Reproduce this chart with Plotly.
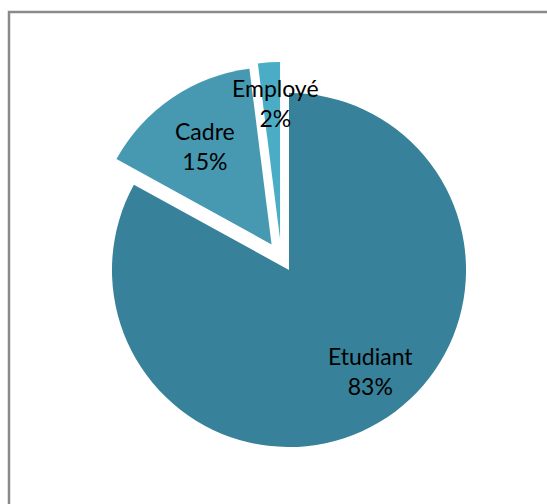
import math
import plotly.graph_objects as go

# Share of respondents by status
labels = ["Etudiant", "Cadre", "Employé"]
values = [83, 15, 2]
pulls = [0, 0.175, 0.175]
colors = ["#37819A", "#4699B1", "#4BACC6"]
# radial position of each label inside its slice (fraction of radius)
label_r = [0.74, 0.67, 0.77]
# fine pixel nudges of the labels (x, y)
label_shift = [(15, 12), (0, 0), (-3, 0)]
# extra sideways offset (px) of the small exploded slice
small_slice_dx = -7

W, H = 547, 504
ML, MR, MT, MB = 60, 40, 62, 26
plot_w = W - ML - MR
plot_h = H - MT - MB
pie_left, pie_size = 81, 416  # square box holding the pie (px)


def dom_x(left):
    return [(left - ML) / plot_w, (left + pie_size - ML) / plot_w]


transparent = "rgba(0,0,0,0)"
main_colors = colors[:2] + [transparent]
small_colors = [transparent, transparent, colors[2]]

fig = go.Figure()
fig.add_trace(go.Pie(
    labels=labels, values=values, pull=pulls,
    sort=False, direction="clockwise", rotation=0,
    marker=dict(colors=main_colors, line=dict(width=0)),
    textinfo="none", hoverinfo="skip", showlegend=False,
    domain=dict(x=dom_x(pie_left), y=[0, 1]),
))
fig.add_trace(go.Pie(
    labels=labels, values=values, pull=pulls,
    sort=False, direction="clockwise", rotation=0,
    marker=dict(colors=small_colors, line=dict(width=0)),
    textinfo="none", hoverinfo="skip", showlegend=False,
    domain=dict(x=dom_x(pie_left + small_slice_dx), y=[0, 1]),
))

# label placement derived from slice angles (pixel space)
total = sum(values)
r_px = pie_size / (2 * (1 + max(pulls)))
cx = pie_left + pie_size / 2
cy = MT + plot_h / 2
cum = 0
annotations = []
for lab, v, p, lr, (sx, sy) in zip(labels, values, pulls, label_r, label_shift):
    theta = 2 * math.pi * (cum + v / 2) / total
    cum += v
    d = (p + lr) * r_px
    x_px = cx + d * math.sin(theta)
    y_px = cy - d * math.cos(theta)
    annotations.append(dict(
        x=(x_px - ML) / plot_w, y=(H - MB - y_px) / plot_h,
        xref="paper", yref="paper",
        xshift=sx, yshift=sy,
        text=f"{lab}<br>{round(100 * v / total)}%",
        showarrow=False, xanchor="center", yanchor="middle",
        font=dict(family="Lato", size=23, color="#000000"),
    ))

# outer frame
px = lambda v: (v - ML) / plot_w
py = lambda v: (H - MB - v) / plot_h
fig.update_layout(
    width=W, height=H,
    margin=dict(l=ML, r=MR, t=MT, b=MB),
    paper_bgcolor="white",
    plot_bgcolor="white",
    annotations=annotations,
    shapes=[dict(
        type="rect", xref="paper", yref="paper",
        x0=px(9), x1=px(600), y0=py(600), y1=py(12),
        line=dict(color="#8A8A8A", width=2.5),
        fillcolor=transparent,
    )],
)

fig.write_html("out.html")
